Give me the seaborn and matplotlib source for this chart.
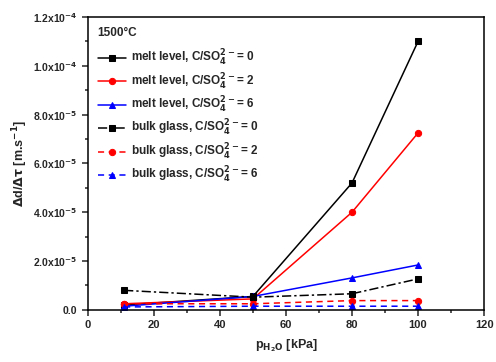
import matplotlib
matplotlib.use("Agg")
import matplotlib.pyplot as plt
import seaborn as sns
import numpy as np
from matplotlib.ticker import MultipleLocator, FuncFormatter

sns.set_theme(style="ticks")
plt.rcParams['font.family'] = ['Liberation Sans', 'DejaVu Sans']
plt.rcParams['font.weight'] = 'bold'
plt.rcParams['mathtext.default'] = 'bf'

p_h2o = [11, 50, 80, 100]
melt_0 = [0.20e-5, 0.55e-5, 5.2e-5, 11.0e-5]
melt_2 = [0.25e-5, 0.45e-5, 4.0e-5, 7.25e-5]
melt_6 = [0.15e-5, 0.55e-5, 1.31e-5, 1.84e-5]
bulk_0 = [0.80e-5, 0.52e-5, 0.66e-5, 1.27e-5]
bulk_2 = [0.25e-5, 0.25e-5, 0.38e-5, 0.38e-5]
bulk_6 = [0.12e-5, 0.15e-5, 0.15e-5, 0.15e-5]

labels = [r"melt level, C/SO$_4^{2-}$= 0", r"melt level, C/SO$_4^{2-}$= 2",
          r"melt level, C/SO$_4^{2-}$= 6", r"bulk glass, C/SO$_4^{2-}$= 0",
          r"bulk glass, C/SO$_4^{2-}$= 2", r"bulk glass, C/SO$_4^{2-}$= 6"]
series = [melt_0, melt_2, melt_6, bulk_0, bulk_2, bulk_6]
colors = ["black", "red", "blue", "black", "red", "blue"]
markers = ["s", "o", "^", "s", "o", "^"]
dashes = ["-", "-", "-", (0, (6, 2, 1.5, 2)), (0, (4, 3)), (0, (4, 3))]

fig = plt.figure(figsize=(4.96, 3.62), dpi=100)
ax = fig.add_axes([0.177, 0.144, 0.799, 0.809])

for y, lab, c, m, ls in zip(series, labels, colors, markers, dashes):
    sns.lineplot(x=p_h2o, y=y, ax=ax, color=c, marker=m, markersize=4.5,
                 markeredgecolor=c, linewidth=1.1, linestyle=ls, label=lab)

ax.set_xlim(0, 120)
ax.set_ylim(0, 1.2e-4)
ax.xaxis.set_major_locator(MultipleLocator(20))
ax.xaxis.set_minor_locator(MultipleLocator(10))
ax.yaxis.set_major_locator(MultipleLocator(2e-5))
ax.yaxis.set_minor_locator(MultipleLocator(1e-5))

def yfmt(v, pos):
    if abs(v) < 1e-12:
        return "0.0"
    e = int(np.floor(np.log10(abs(v)) + 1e-9))
    mant = v / 10**e
    return r"%.1fx10$^{%d}$" % (mant, e)

ax.yaxis.set_major_formatter(FuncFormatter(yfmt))
ax.tick_params(axis='both', which='both', direction='out', width=1.1)
ax.tick_params(axis='y', labelsize=7.5)
ax.tick_params(axis='x', labelsize=8)
ax.tick_params(which='major', length=4)
ax.tick_params(which='minor', length=2.5)
ax.tick_params(top=False, right=False)
for lab in ax.get_xticklabels() + ax.get_yticklabels():
    lab.set_fontweight('bold')
for s in ax.spines.values():
    s.set_linewidth(1.1)
    s.set_color('black')

ax.set_xlabel(r"p$_{\mathrm{H_2O}}$ [kPa]", fontsize=9, fontweight='bold')
ax.set_ylabel(r"$\Delta$d/$\Delta\tau$ [m.s$^{-1}$]", fontsize=9, fontweight='bold')
ax.xaxis.set_label_coords(0.5, -0.095)
ax.yaxis.set_label_coords(-0.145, 0.5)

ax.text(0.025, 0.945, "1500°C", transform=ax.transAxes, fontsize=8.5,
        fontweight='bold', ha='left', va='center')
leg = ax.legend(loc='upper left', bbox_to_anchor=(0, 0.93), frameon=False,
                fontsize=8.5, handlelength=2.3, handletextpad=0.5,
                labelspacing=0.28, borderaxespad=0.5)
for t in leg.get_texts():
    t.set_fontweight('bold')

fig.savefig("out.png", dpi=100)
